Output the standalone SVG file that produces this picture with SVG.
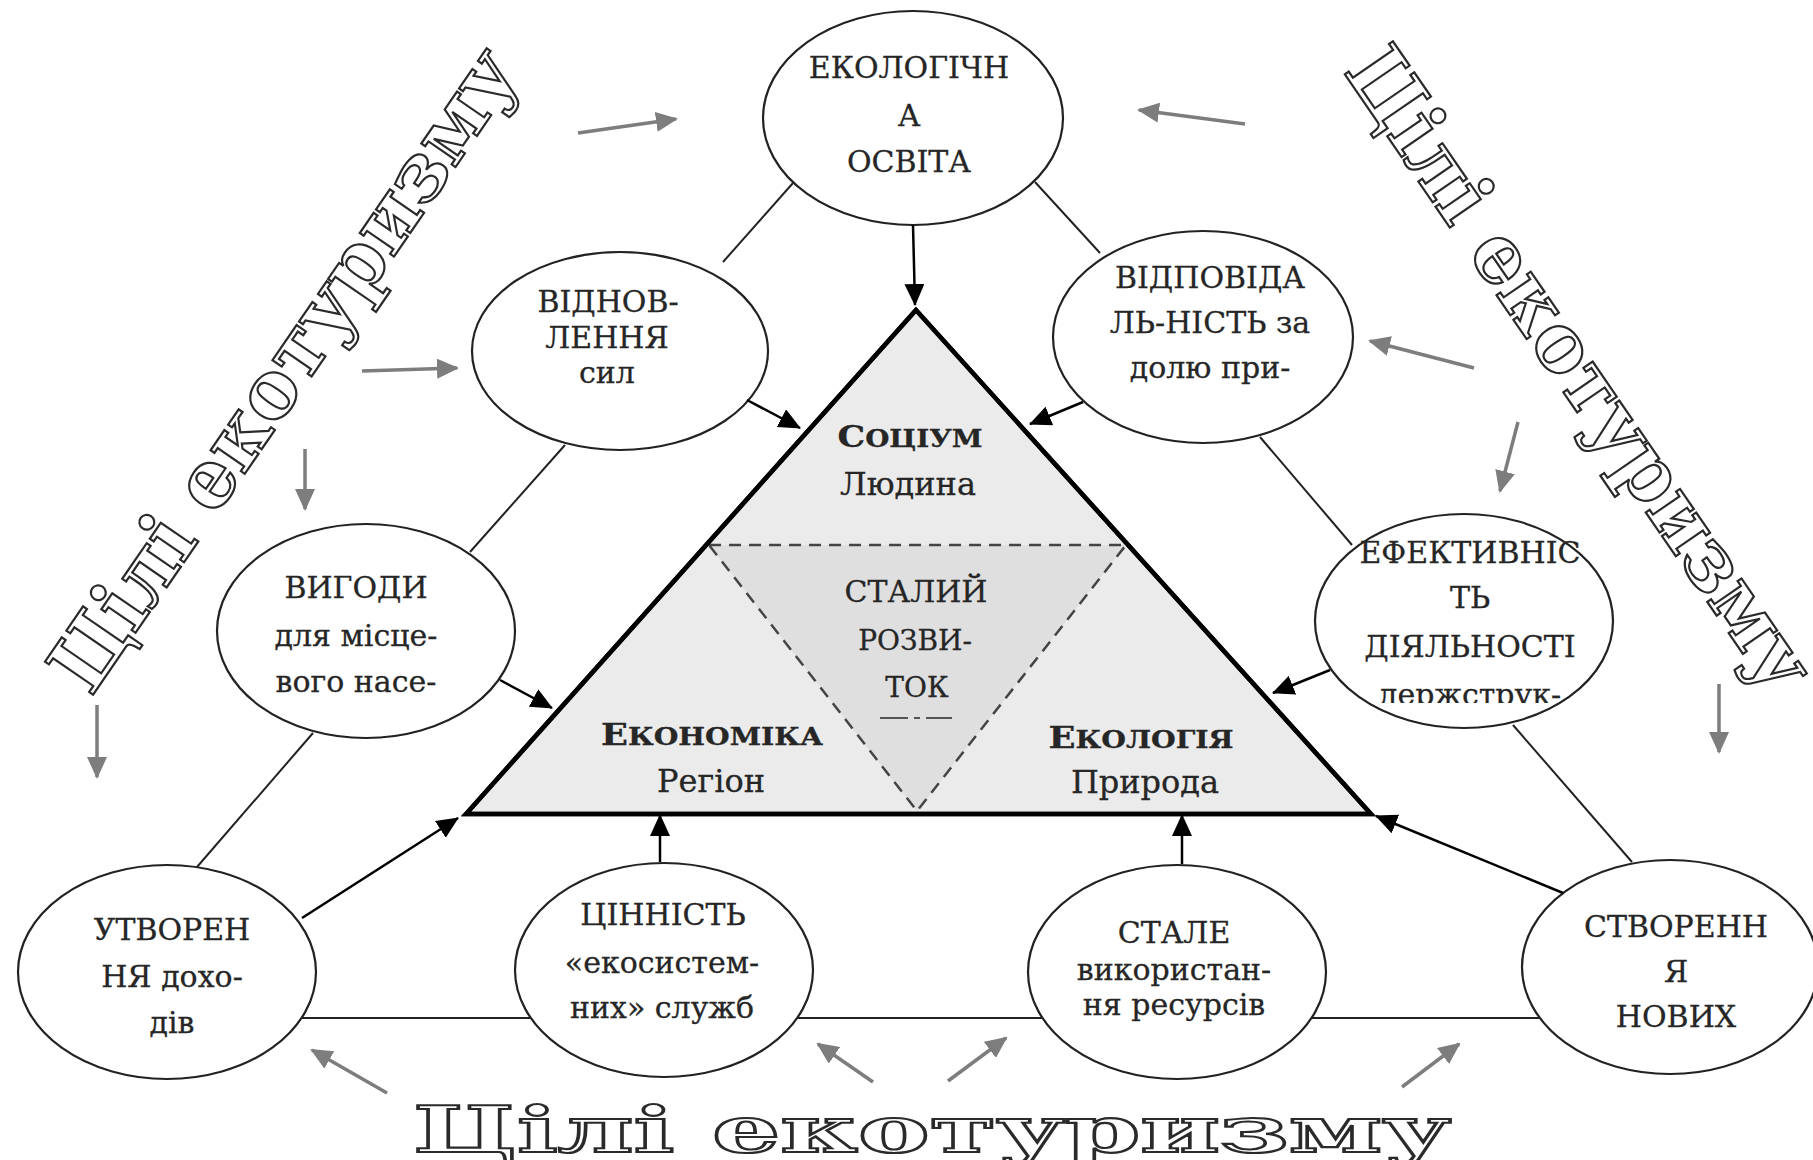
<svg xmlns="http://www.w3.org/2000/svg" width="1813" height="1160" viewBox="0 0 1813 1160">
<style>
 .el{fill:#fff;stroke:#222;stroke-width:2.2}
 .t{font-family:"DejaVu Serif","Liberation Serif",serif;font-size:30px;fill:#262626;stroke:#262626;stroke-width:0.3;text-anchor:middle}
 .tl{font-size:32px}
 .b{font-weight:bold;font-size:24px}
 .big{font-family:"DejaVu Serif","Liberation Serif",serif;font-weight:bold;fill:#fff;stroke:#2a2a2a;stroke-width:2.2;text-anchor:middle}
 .ln{stroke:#222;stroke-width:2;fill:none}
 .ar{stroke:#000;stroke-width:2.5;fill:none;marker-end:url(#ah)}
 .ga{stroke:#7d7d7d;stroke-width:3.5;fill:none;marker-end:url(#gh)}
</style>
<defs>
 <marker id="ah" markerUnits="userSpaceOnUse" viewBox="0 0 22 20" markerWidth="22" markerHeight="20" refX="21" refY="10" orient="auto"><path d="M0,0 L22,10 L0,20 z" fill="#000"/></marker>
 <marker id="gh" markerUnits="userSpaceOnUse" viewBox="0 0 22 20" markerWidth="22" markerHeight="20" refX="20" refY="10" orient="auto"><path d="M0,0 L22,10 L0,20 z" fill="#7d7d7d"/></marker>
 <clipPath id="cp5"><rect x="1300" y="600" width="330" height="103"/></clipPath>
</defs>
<rect width="1813" height="1160" fill="#fff"/>

<g id="titles">
 <text class="big" font-size="64" x="932" y="1152" textLength="1038" lengthAdjust="spacingAndGlyphs">Цілі екотуризму</text>
 <text class="big" font-size="80" transform="translate(288,372) rotate(-55.5)" x="0" y="22" textLength="760" lengthAdjust="spacingAndGlyphs">Цілі екотуризму</text>
 <text class="big" font-size="80" transform="translate(1576,372) rotate(55.5)" x="0" y="22" textLength="760" lengthAdjust="spacingAndGlyphs">Цілі екотуризму</text>
</g>

<g id="connectors">
 <line class="ln" x1="793" y1="183" x2="723" y2="262"/>
 <line class="ln" x1="1035" y1="182" x2="1100" y2="253"/>
 <line class="ln" x1="565" y1="445" x2="470" y2="552"/>
 <line class="ln" x1="313" y1="733" x2="197" y2="867"/>
 <line class="ln" x1="1260" y1="437" x2="1352" y2="545"/>
 <line class="ln" x1="1513" y1="725" x2="1632" y2="862"/>
 <line class="ln" x1="300" y1="1018" x2="1540" y2="1018"/>
</g>

<g id="core">
 <polygon points="916,310 466,814 1371,814" fill="#ebebeb" stroke="#000" stroke-width="4.5"/>
 <polygon points="709,545 1126,545 917,811" fill="#dfdfdf" stroke="#444" stroke-width="2.5" stroke-dasharray="12 8"/>
 <polygon points="916,310 466,814 1371,814" fill="none" stroke="#000" stroke-width="4.5"/>
 <text class="t" x="910" y="447" textLength="145" lengthAdjust="spacingAndGlyphs"><tspan class="b" style="font-size:30px">С</tspan><tspan class="b">ОЦІУМ</tspan></text>
 <text class="t tl" x="908" y="495">Людина</text>
 <text class="t" x="916" y="602">СТАЛИЙ</text>
 <text class="t" x="915" y="650" style="font-size:28px">РОЗВИ-</text>
 <text class="t" x="917" y="697" style="font-size:28px">ТОК</text>
 <line x1="880" y1="718" x2="952" y2="718" stroke="#555" stroke-width="2" stroke-dasharray="28 6 6 6 28"/>
 <text class="t" x="712" y="745" textLength="222" lengthAdjust="spacingAndGlyphs"><tspan class="b" style="font-size:30px">Е</tspan><tspan class="b">КОНОМІКА</tspan></text>
 <text class="t tl" x="711" y="792">Регіон</text>
 <text class="t" x="1141" y="748" textLength="185" lengthAdjust="spacingAndGlyphs"><tspan class="b" style="font-size:30px">Е</tspan><tspan class="b">КОЛОГІЯ</tspan></text>
 <text class="t tl" x="1145" y="793">Природа</text>
</g>

<g id="n1">
 <ellipse class="el" cx="913" cy="118" rx="150" ry="107"/>
 <text class="t" x="909" y="78">ЕКОЛОГІЧН</text>
 <text class="t" x="909" y="126">А</text>
 <text class="t" x="909" y="172">ОСВІТА</text>
</g>
<g id="n2">
 <ellipse class="el" cx="620" cy="351" rx="148" ry="99"/>
 <text class="t" x="608" y="312">ВІДНОВ-</text>
 <text class="t" x="607" y="348">ЛЕННЯ</text>
 <text class="t" x="607" y="383">сил</text>
</g>
<g id="n3">
 <ellipse class="el" cx="1203" cy="337" rx="150" ry="106"/>
 <text class="t" x="1210" y="288">ВІДПОВІДА</text>
 <text class="t" x="1210" y="333">ЛЬ-НІСТЬ за</text>
 <text class="t" x="1210" y="378">долю при-</text>
</g>
<g id="n4">
 <ellipse class="el" cx="366" cy="631" rx="149" ry="107"/>
 <text class="t" x="356" y="598">ВИГОДИ</text>
 <text class="t" x="356" y="646">для місце-</text>
 <text class="t" x="356" y="692">вого насе-</text>
</g>
<g id="n5">
 <ellipse class="el" cx="1464" cy="621" rx="149" ry="107"/>
 <text class="t" x="1470" y="563">ЕФЕКТИВНІС</text>
 <text class="t" x="1470" y="608">ТЬ</text>
 <text class="t" x="1470" y="657">ДІЯЛЬНОСТІ</text>
 <text class="t" x="1470" y="705" clip-path="url(#cp5)">держструк-</text>
</g>
<g id="n6">
 <ellipse class="el" cx="167" cy="972" rx="149" ry="107"/>
 <text class="t" x="172" y="940">УТВОРЕН</text>
 <text class="t" x="172" y="987">НЯ дохо-</text>
 <text class="t" x="172" y="1033">дів</text>
</g>
<g id="n7">
 <ellipse class="el" cx="664" cy="970" rx="149" ry="107"/>
 <text class="t" x="663" y="925">ЦІННІСТЬ</text>
 <text class="t" x="662" y="973">«екосистем-</text>
 <text class="t" x="662" y="1018">них» служб</text>
</g>
<g id="n8">
 <ellipse class="el" cx="1177" cy="972" rx="149" ry="107"/>
 <text class="t" x="1174" y="943">СТАЛЕ</text>
 <text class="t" x="1174" y="980">використан-</text>
 <text class="t" x="1174" y="1015">ня ресурсів</text>
</g>
<g id="n9">
 <ellipse class="el" cx="1670" cy="967" rx="148" ry="107"/>
 <text class="t" x="1676" y="937">СТВОРЕНН</text>
 <text class="t" x="1676" y="982">Я</text>
 <text class="t" x="1676" y="1027">НОВИХ</text>
</g>

<g id="arrows">
 <line class="ar" x1="913" y1="225" x2="915" y2="305"/>
 <line class="ar" x1="747" y1="400" x2="800" y2="428"/>
 <line class="ar" x1="1083" y1="402" x2="1030" y2="424"/>
 <line class="ar" x1="500" y1="680" x2="552" y2="708"/>
 <line class="ar" x1="1330" y1="670" x2="1273" y2="693"/>
 <line class="ar" x1="302" y1="918" x2="458" y2="818"/>
 <line class="ar" x1="1563" y1="893" x2="1376" y2="816"/>
 <line class="ar" x1="660" y1="862" x2="660" y2="815"/>
 <line class="ar" x1="1182" y1="864" x2="1182" y2="815"/>
 <line class="ga" x1="578" y1="133" x2="676" y2="119"/>
 <line class="ga" x1="1245" y1="124" x2="1139" y2="110"/>
 <line class="ga" x1="362" y1="371" x2="457" y2="368"/>
 <line class="ga" x1="305" y1="449" x2="305" y2="509"/>
 <line class="ga" x1="97" y1="705" x2="97" y2="777"/>
 <line class="ga" x1="1474" y1="368" x2="1370" y2="341"/>
 <line class="ga" x1="1518" y1="422" x2="1500" y2="491"/>
 <line class="ga" x1="1719" y1="684" x2="1719" y2="752"/>
 <line class="ga" x1="387" y1="1093" x2="312" y2="1050"/>
 <line class="ga" x1="873" y1="1082" x2="818" y2="1044"/>
 <line class="ga" x1="948" y1="1081" x2="1006" y2="1038"/>
 <line class="ga" x1="1402" y1="1087" x2="1459" y2="1044"/>
</g>
</svg>
